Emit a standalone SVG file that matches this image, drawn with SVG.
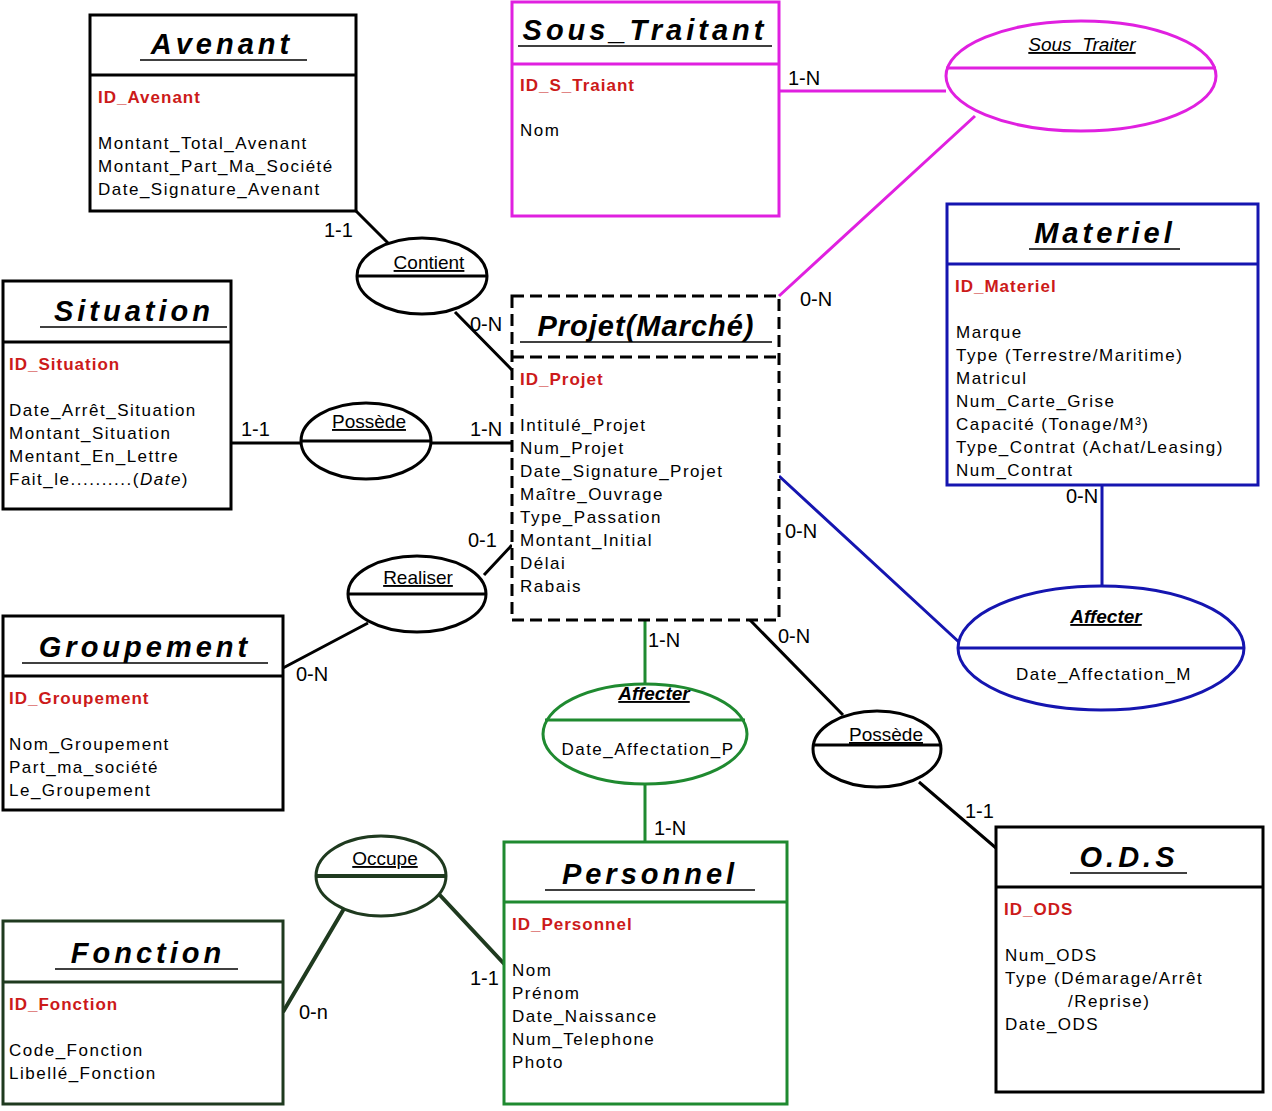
<svg xmlns="http://www.w3.org/2000/svg" width="1272" height="1111" viewBox="0 0 1272 1111">
<style>
text{font-family:"Liberation Sans",Arial,sans-serif;}
.t{font-size:29px;font-weight:bold;font-style:italic;letter-spacing:4px;text-anchor:middle;}
.id{font-size:17px;font-weight:bold;fill:#cc1a1a;letter-spacing:1px;}
.a{font-size:17px;letter-spacing:1.5px;}
.c{font-size:20px;}
.r{font-size:19px;text-anchor:middle;text-decoration:underline;}
.box{fill:#fff;stroke-width:3;}
.ln{fill:none;stroke-width:3;}
</style>
<rect width="1272" height="1111" fill="#fff"/>
<g id="connectors" fill="none" stroke-width="3">
<path d="M356,211 L388,243 M455,312 L512,370" stroke="#000"/>
<path d="M231,443 H301 M431,443 H512" stroke="#000"/>
<path d="M283,668 L368,623 M484,575 L512,545" stroke="#000"/>
<path d="M779,91 H946 M975,116 L779,296" stroke="#e020e0"/>
<path d="M779,476 L960,643 M1102,485 V586" stroke="#1515b0"/>
<path d="M645,620 V684 M645,784 V842" stroke="#1f8a30"/>
<path d="M750,620 L843,715 M919,782 L996,848" stroke="#000"/>
<path d="M283,1012 L345,907 M437,892 L508,968" stroke="#1f3a1f" stroke-width="4"/>
</g>
<g id="cards" class="c">
<text x="324" y="237">1-1</text><text x="470" y="331">0-N</text>
<text x="241" y="436">1-1</text><text x="470" y="436">1-N</text>
<text x="468" y="547">0-1</text><text x="296" y="681">0-N</text>
<text x="788" y="85">1-N</text><text x="800" y="306">0-N</text>
<text x="785" y="538">0-N</text><text x="1066" y="503">0-N</text>
<text x="648" y="647">1-N</text><text x="778" y="643">0-N</text>
<text x="654" y="835">1-N</text><text x="965" y="818">1-1</text>
<text x="470" y="985">1-1</text><text x="299" y="1019">0-n</text>
</g>
<g id="Avenant" stroke="#000">
<rect class="box" x="90" y="15" width="266" height="196"/><line class="ln" x1="90" y1="75" x2="356" y2="75"/>
<g stroke="none"><text class="t" x="222" y="54">Avenant</text>
<line x1="140" y1="60" x2="307" y2="60" stroke="#000" stroke-width="1.5"/>
<text class="id" x="98" y="103">ID_Avenant</text>
<text class="a" x="98" y="149">Montant_Total_Avenant</text>
<text class="a" x="98" y="172">Montant_Part_Ma_Société</text>
<text class="a" x="98" y="195">Date_Signature_Avenant</text></g>
</g>
<g id="Sous_Traitant" stroke="#e020e0">
<rect class="box" x="512" y="2" width="267" height="214"/><line class="ln" x1="512" y1="64" x2="779" y2="64"/>
<g stroke="none"><text class="t" x="645" y="40">Sous_Traitant</text>
<line x1="518" y1="46" x2="772" y2="46" stroke="#000" stroke-width="1.5"/>
<text class="id" x="520" y="91">ID_S_Traiant</text>
<text class="a" x="520" y="136">Nom</text></g>
</g>
<g id="Situation" stroke="#000">
<rect class="box" x="3" y="281" width="228" height="228"/><line class="ln" x1="3" y1="342" x2="231" y2="342"/>
<g stroke="none"><text class="t" x="134" y="321">Situation</text>
<line x1="40" y1="327" x2="227" y2="327" stroke="#000" stroke-width="1.5"/>
<text class="id" x="9" y="370">ID_Situation</text>
<text class="a" x="9" y="416">Date_Arrêt_Situation</text>
<text class="a" x="9" y="439">Montant_Situation</text>
<text class="a" x="9" y="462">Mentant_En_Lettre</text>
<text class="a" x="9" y="485">Fait_le..........(<tspan font-style="italic">Date</tspan>)</text></g>
</g>
<g id="Materiel" stroke="#1515b0">
<rect class="box" x="947" y="204" width="311" height="281"/><line class="ln" x1="947" y1="264" x2="1258" y2="264"/>
<g stroke="none"><text class="t" x="1105" y="243">Materiel</text>
<line x1="1029" y1="249" x2="1180" y2="249" stroke="#000" stroke-width="1.5"/>
<text class="id" x="955" y="292">ID_Materiel</text>
<text class="a" x="956" y="338">Marque</text>
<text class="a" x="956" y="361">Type (Terrestre/Maritime)</text>
<text class="a" x="956" y="384">Matricul</text>
<text class="a" x="956" y="407">Num_Carte_Grise</text>
<text class="a" x="956" y="430">Capacité (Tonage/M³)</text>
<text class="a" x="956" y="453">Type_Contrat (Achat/Leasing)</text>
<text class="a" x="956" y="476">Num_Contrat</text></g>
</g>
<g id="Projet" stroke="#000">
<rect class="box" x="512" y="296" width="267" height="324" stroke-dasharray="12,6" stroke-width="4"/>
<line class="ln" x1="512" y1="357" x2="779" y2="357" stroke-dasharray="12,6" stroke-width="4"/>
<g stroke="none"><text x="646" y="336" style="font-size:29px;font-weight:bold;font-style:italic;letter-spacing:1px;text-anchor:middle">Projet(Marché)</text>
<line x1="520" y1="342" x2="772" y2="342" stroke="#000" stroke-width="1.5"/>
<text class="id" x="520" y="385">ID_Projet</text>
<text class="a" x="520" y="431">Intitulé_Projet</text>
<text class="a" x="520" y="454">Num_Projet</text>
<text class="a" x="520" y="477">Date_Signature_Projet</text>
<text class="a" x="520" y="500">Maître_Ouvrage</text>
<text class="a" x="520" y="523">Type_Passation</text>
<text class="a" x="520" y="546">Montant_Initial</text>
<text class="a" x="520" y="569">Délai</text>
<text class="a" x="520" y="592">Rabais</text></g>
</g>
<g id="Groupement" stroke="#000">
<rect class="box" x="3" y="616" width="280" height="194"/><line class="ln" x1="3" y1="676" x2="283" y2="676"/>
<g stroke="none"><text class="t" x="145" y="657">Groupement</text>
<line x1="22" y1="663" x2="268" y2="663" stroke="#000" stroke-width="1.5"/>
<text class="id" x="9" y="704">ID_Groupement</text>
<text class="a" x="9" y="750">Nom_Groupement</text>
<text class="a" x="9" y="773">Part_ma_société</text>
<text class="a" x="9" y="796">Le_Groupement</text></g>
</g>
<g id="ODS" stroke="#000">
<rect class="box" x="996" y="827" width="267" height="265"/><line class="ln" x1="996" y1="887" x2="1263" y2="887"/>
<g stroke="none"><text class="t" x="1129" y="867">O.D.S</text>
<line x1="1070" y1="873" x2="1187" y2="873" stroke="#000" stroke-width="1.5"/>
<text class="id" x="1004" y="915">ID_ODS</text>
<text class="a" x="1005" y="961">Num_ODS</text>
<text class="a" x="1005" y="984">Type (Démarage/Arrêt</text>
<text class="a" x="1068" y="1007">/Reprise)</text>
<text class="a" x="1005" y="1030">Date_ODS</text></g>
</g>
<g id="Personnel" stroke="#1f8a30">
<rect class="box" x="504" y="842" width="283" height="262"/><line class="ln" x1="504" y1="902" x2="787" y2="902"/>
<g stroke="none"><text class="t" x="650" y="884">Personnel</text>
<line x1="545" y1="890" x2="755" y2="890" stroke="#000" stroke-width="1.5"/>
<text class="id" x="512" y="930">ID_Personnel</text>
<text class="a" x="512" y="976">Nom</text>
<text class="a" x="512" y="999">Prénom</text>
<text class="a" x="512" y="1022">Date_Naissance</text>
<text class="a" x="512" y="1045">Num_Telephone</text>
<text class="a" x="512" y="1068">Photo</text></g>
</g>
<g id="Fonction" stroke="#1f3a1f">
<rect class="box" x="3" y="921" width="280" height="183" stroke-width="4"/><line class="ln" x1="3" y1="982" x2="283" y2="982" stroke-width="4"/>
<g stroke="none"><text class="t" x="148" y="963">Fonction</text>
<line x1="55" y1="969" x2="238" y2="969" stroke="#000" stroke-width="1.5"/>
<text class="id" x="9" y="1010">ID_Fonction</text>
<text class="a" x="9" y="1056">Code_Fonction</text>
<text class="a" x="9" y="1079">Libellé_Fonction</text></g>
</g>
<g id="Contient" stroke="#000"><ellipse class="box" cx="422" cy="276" rx="65" ry="38"/><line x1="357" y1="276" x2="487" y2="276" stroke-width="3"/><text class="r" x="429" y="269" stroke="none">Contient</text></g>
<g id="Possede1" stroke="#000"><ellipse class="box" cx="366" cy="441" rx="65" ry="38"/><line x1="301" y1="441" x2="431" y2="441" stroke-width="3"/><text class="r" x="369" y="428" stroke="none">Possède</text></g>
<g id="Realiser" stroke="#000"><ellipse class="box" cx="417" cy="594" rx="69" ry="38"/><line x1="348" y1="594" x2="486" y2="594" stroke-width="3"/><text class="r" x="418" y="584" stroke="none">Realiser</text></g>
<g id="Sous_Traiter" stroke="#e020e0"><ellipse class="box" cx="1081" cy="76" rx="135" ry="55"/><line x1="946" y1="68" x2="1216" y2="68" stroke-width="3"/><text class="r" x="1082" y="51" stroke="none" font-style="italic" font-size="21px">Sous_Traiter</text></g>
<g id="Affecter_M" stroke="#1515b0"><ellipse class="box" cx="1101" cy="648" rx="143" ry="62"/><line x1="958" y1="648" x2="1244" y2="648" stroke-width="3"/><text class="r" x="1106" y="623" stroke="none" font-weight="bold" font-style="italic" font-size="24px">Affecter</text><text class="a" x="1104" y="680" text-anchor="middle" stroke="none">Date_Affectation_M</text></g>
<g id="Affecter_P" stroke="#1f8a30"><ellipse class="box" cx="645" cy="734" rx="102" ry="50"/><line x1="545" y1="720" x2="745" y2="720" stroke-width="3"/><text class="r" x="654" y="700" stroke="none" font-weight="bold" font-style="italic" font-size="24px">Affecter</text><text class="a" x="648" y="755" text-anchor="middle" stroke="none">Date_Affectation_P</text></g>
<g id="Possede2" stroke="#000"><ellipse class="box" cx="877" cy="749" rx="64" ry="38"/><line x1="813" y1="745" x2="941" y2="745" stroke-width="3"/><text class="r" x="886" y="741" stroke="none">Possède</text></g>
<g id="Occupe" stroke="#1f3a1f"><ellipse class="box" cx="381" cy="876" rx="65" ry="40" stroke-width="4"/><line x1="316" y1="876" x2="446" y2="876" stroke-width="4"/><text class="r" x="385" y="865" stroke="none">Occupe</text></g>
</svg>
